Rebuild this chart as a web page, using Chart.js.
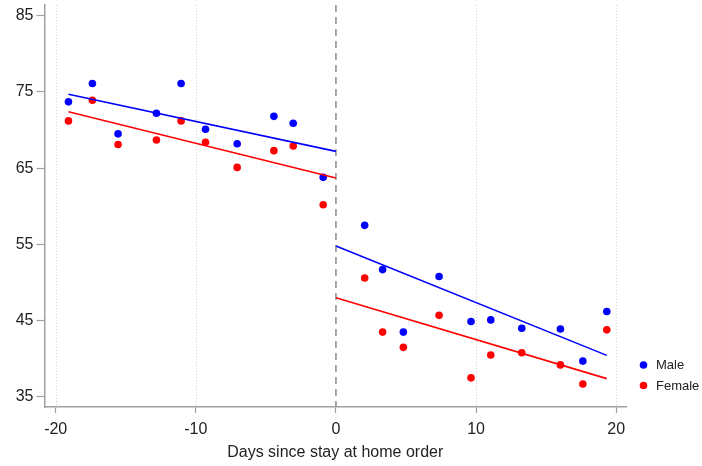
<!DOCTYPE html>
<html>
<head>
<meta charset="utf-8">
<script src="https://cdn.jsdelivr.net/npm/chart.js@4/dist/chart.umd.min.js"></script>
<style>
html,body{margin:0;padding:0;background:#fff;}
#wrap{width:702px;height:466px;}
</style>
</head>
<body>
<div id="wrap"><canvas id="c" width="702" height="466"></canvas></div>
<script>
// Binned means (days since order)
const days = [-19.09,-17.38,-15.55,-12.81,-11.05,-9.31,-7.05,-4.43,-3.05,-0.91,
              2.05,3.33,4.81,7.36,9.64,11.05,13.26,16.02,17.62,19.33];
const male = [73.7,76.1,69.5,72.2,76.1,70.1,68.2,71.8,70.9,63.8,
              57.5,51.7,43.5,50.8,44.9,45.1,44.0,43.9,39.7,46.2];
const female = [71.2,73.9,68.1,68.7,71.2,68.4,65.1,67.3,67.9,60.2,
                50.6,43.5,41.5,45.7,37.5,40.5,40.8,39.2,36.7,43.8];
// Fitted line endpoints
const fitPreDays = [-19.09, 0];
const fitPostDays = [0, 19.33];
const maleFitPre = [74.7, 67.2];
const maleFitPost = [54.8, 40.45];
const femaleFitPre = [72.4, 63.7];
const femaleFitPost = [48.0, 37.4];
const xTicks = [-20,-10,0,10,20];
const yTicks = [35,45,55,65,75,85];
const labels = ['Male','Female'];
const BLUE = '#0000ff', RED = '#ff0000';

const pts = (xs, ys) => xs.map((x,i)=>({x:x, y:ys[i]}));

const bgPlugin = {
  id:'bg',
  beforeDatasetsDraw(chart){
    const {ctx, chartArea:a, scales:{x,y}} = chart;
    ctx.save();
    ctx.strokeStyle = '#d0d0d0';
    ctx.lineWidth = 1;
    ctx.setLineDash([1,2]);
    xTicks.forEach(v=>{
      if(v===0) return;
      const px = Math.round(x.getPixelForValue(v))+0.5;
      ctx.beginPath(); ctx.moveTo(px,a.top); ctx.lineTo(px,a.bottom); ctx.stroke();
    });
    ctx.strokeStyle = '#8c8c8c';
    ctx.lineWidth = 1.5;
    ctx.setLineDash([7,5]);
    const p0 = x.getPixelForValue(0);
    ctx.beginPath(); ctx.moveTo(p0,a.top); ctx.lineTo(p0,a.bottom); ctx.stroke();
    ctx.restore();
  },
  afterDraw(chart){
    const {ctx} = chart;
    ctx.save();
    const cols=[BLUE,RED];
    labels.forEach((l,i)=>{
      const yy = 365 + i*20.5;
      ctx.fillStyle = cols[i];
      ctx.beginPath(); ctx.arc(643.5, yy, 3.8, 0, Math.PI*2); ctx.fill();
      ctx.fillStyle = '#222';
      ctx.font = '13px "Liberation Sans", Arial, sans-serif';
      ctx.textBaseline = 'middle';
      ctx.textAlign = 'left';
      ctx.fillText(l, 656, yy+0.5);
    });
    ctx.restore();
  }
};

new Chart(document.getElementById('c'), {
  type:'scatter',
  data:{
    datasets:[
      {label:'Male fit pre', type:'line', data:pts(fitPreDays, maleFitPre), borderColor:BLUE, borderWidth:1.6, pointRadius:0, fill:false},
      {label:'Male fit post', type:'line', data:pts(fitPostDays, maleFitPost), borderColor:BLUE, borderWidth:1.6, pointRadius:0, fill:false},
      {label:'Female fit pre', type:'line', data:pts(fitPreDays, femaleFitPre), borderColor:RED, borderWidth:1.6, pointRadius:0, fill:false},
      {label:'Female fit post', type:'line', data:pts(fitPostDays, femaleFitPost), borderColor:RED, borderWidth:1.6, pointRadius:0, fill:false},
      {label:labels[0], data:pts(days, male), backgroundColor:BLUE, borderColor:BLUE, pointRadius:3.8, borderWidth:0},
      {label:labels[1], data:pts(days, female), backgroundColor:RED, borderColor:RED, pointRadius:3.8, borderWidth:0}
    ]
  },
  options:{
    responsive:false,
    animation:false,
    layout:{padding:{left:12.7, right:76, top:5, bottom:4}},
    plugins:{legend:{display:false}, tooltip:{enabled:false}},
    scales:{
      x:{
        type:'linear', min:-20.8, max:20.7,
        afterBuildTicks(s){ s.ticks = xTicks.map(v=>({value:v})); },
        afterFit(s){ s.paddingLeft=0; s.paddingRight=0; },
        grid:{display:true, drawOnChartArea:false, drawTicks:true, tickLength:6, tickColor:'#a0a0a0', tickWidth:1.2},
        border:{display:true, color:'#a0a0a0', width:1.5},
        ticks:{color:'#222', font:{family:'"Liberation Sans", Arial, sans-serif', size:16}, padding:7.3, maxRotation:0},
        title:{display:true, text:'Days since stay at home order', color:'#222', font:{family:'"Liberation Sans", Arial, sans-serif', size:16}, padding:{top:-4,bottom:0}}
      },
      y:{
        type:'linear', min:33.68, max:86.4,
        afterBuildTicks(s){ s.ticks = yTicks.map(v=>({value:v})); },
        afterFit(s){ s.paddingTop=0; s.paddingBottom=0; },
        grid:{display:true, drawOnChartArea:false, drawTicks:true, tickLength:8, tickColor:'#a0a0a0', tickWidth:1.2},
        border:{display:true, color:'#a0a0a0', width:1.5},
        ticks:{color:'#222', font:{family:'"Liberation Sans", Arial, sans-serif', size:16}, padding:3}
      }
    }
  },
  plugins:[bgPlugin]
});
</script>
</body>
</html>
